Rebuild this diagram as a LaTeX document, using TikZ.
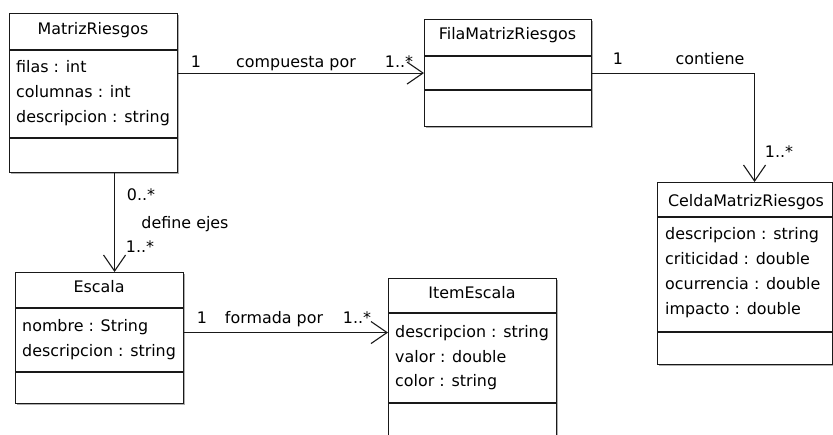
\documentclass[tikz,border=0pt]{standalone}
\usepackage{fontspec}
\setmainfont{DejaVu Sans}
\usetikzlibrary{arrows.meta,shadows}
\begin{document}
\begin{tikzpicture}[x=1pt,y=-1pt,
  txt/.style={inner sep=0pt, text=black, font=\fontsize{15.9}{19}\selectfont},
  classbox/.style={draw=black!90, line width=1.1pt, fill=white, inner sep=0pt, anchor=north west,
    drop shadow={shadow xshift=1.5pt, shadow yshift=-1.5pt, fill=black!45, opacity=0.7}},
  hdr/.style={txt, anchor=base},
  attr/.style={txt, anchor=base west},
  lbl/.style={txt, anchor=base},
  sep/.style={line width=1.1pt, draw=black!90},
  assoc/.style={line width=1.1pt, draw=black!90, -{Straight Barb[length=16pt,width=22pt,line width=1.1pt]}}
]
\clip (0,0) rectangle (833,434);
\fill[white] (0,0) rectangle (833,434);

% MatrizRiesgos
\node[classbox, minimum width=168pt, minimum height=159pt] (matriz) at (9,13) {};
\draw[sep] (matriz.west |- 0,50) -- (matriz.east |- 0,50);
\draw[sep] (matriz.west |- 0,138) -- (matriz.east |- 0,138);
\node[hdr] (matrizT) at (93,34) {MatrizRiesgos};
\node[attr] (matrizA1) at (16,72) {filas : int};
\node[attr] (matrizA2) at (16,97) {columnas : int};
\node[attr] (matrizA3) at (16,122) {descripcion : string};

% FilaMatrizRiesgos
\node[classbox, minimum width=167pt, minimum height=107pt] (fila) at (424,19) {};
\draw[sep] (fila.west |- 0,56) -- (fila.east |- 0,56);
\draw[sep] (fila.west |- 0,90) -- (fila.east |- 0,90);
\node[hdr] (filaT) at (507.5,39) {FilaMatrizRiesgos};

% CeldaMatrizRiesgos
\node[classbox, minimum width=175pt, minimum height=182pt] (celda) at (657,182) {};
\draw[sep] (celda.west |- 0,217) -- (celda.east |- 0,217);
\draw[sep] (celda.west |- 0,332) -- (celda.east |- 0,332);
\node[hdr] (celdaT) at (746,206) {CeldaMatrizRiesgos};
\node[attr] (celdaA1) at (665,239) {descripcion : string};
\node[attr] (celdaA2) at (665,264) {criticidad : double};
\node[attr] (celdaA3) at (665,289) {ocurrencia : double};
\node[attr] (celdaA4) at (665,314) {impacto : double};

% Escala
\node[classbox, minimum width=168pt, minimum height=131pt] (escala) at (15,272) {};
\draw[sep] (escala.west |- 0,308) -- (escala.east |- 0,308);
\draw[sep] (escala.west |- 0,372) -- (escala.east |- 0,372);
\node[hdr] (escalaT) at (99,292) {Escala};
\node[attr] (escalaA1) at (22,331) {nombre : String};
\node[attr] (escalaA2) at (22,356) {descripcion : string};

% ItemEscala
\node[classbox, minimum width=168pt, minimum height=170pt] (item) at (388,278) {};
\draw[sep] (item.west |- 0,313) -- (item.east |- 0,313);
\draw[sep] (item.west |- 0,403) -- (item.east |- 0,403);
\node[hdr] (itemT) at (472,298) {ItemEscala};
\node[attr] (itemA1) at (395,337) {descripcion : string};
\node[attr] (itemA2) at (395,362) {valor : double};
\node[attr] (itemA3) at (395,386.5) {color : string};

% connectors
\draw[assoc] (matriz.east |- fila.west) -- (fila.west);
\draw[assoc] (fila.east) -| ([xshift=9.5pt]celda.north);
\draw[assoc] ([xshift=21pt]matriz.south) -- ([xshift=15pt]escala.north);
\coordinate (fa) at ([yshift=5.5pt]escala.east);
\draw[assoc] (fa) -- (item.west |- fa);

% labels
\node[lbl] (l1) at (196,67) {1};
\node[lbl] (l2) at (296,67) {compuesta por};
\node[lbl] (l3) at (399,67) {1..*};
\node[lbl] (l4) at (618,64) {1};
\node[lbl] (l5) at (710,64) {contiene};
\node[lbl] (l6) at (779,157) {1..*};
\node[lbl] (l7) at (141,200) {0..*};
\node[lbl] (l8) at (185,228) {define ejes};
\node[lbl] (l9) at (140,252) {1..*};
\node[lbl] (l10) at (202,323) {1};
\node[lbl] (l11) at (274,323) {formada por};
\node[lbl] (l12) at (357,323) {1..*};
\end{tikzpicture}
\end{document}
